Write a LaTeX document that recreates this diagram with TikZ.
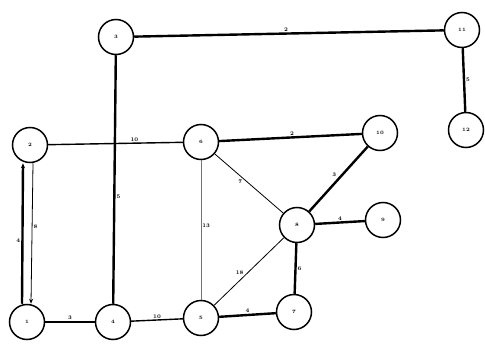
\documentclass[tikz,border=0pt]{standalone}
\usetikzlibrary{arrows.meta}
\begin{document}
\begin{tikzpicture}[x=1pt,y=-1pt,
  vert/.style={circle,draw,line width=1.5pt,minimum size=35pt,inner sep=0pt,font=\fontsize{5}{6}\selectfont\bfseries,fill=white},
  lab/.style={font=\fontsize{5.5}{6}\selectfont\bfseries,inner sep=1pt},
  heavy/.style={line width=2.4pt},
  mid/.style={line width=1.4pt},
  light/.style={line width=0.8pt},
  faint/.style={line width=0.6pt,black!55}]
\useasboundingbox (0,0) rectangle (485,345);
\node[vert] (n1) at (27,322) {1};
\node[vert] (n2) at (30,145) {2};
\node[vert] (n3) at (116,37) {3};
\node[vert] (n4) at (113,322) {4};
\node[vert] (n5) at (201,318) {5};
\node[vert] (n6) at (201,142) {6};
\node[vert] (n7) at (294,312) {7};
\node[vert] (n8) at (297,225) {8};
\node[vert] (n9) at (383,220) {9};
\node[vert] (n10) at (380,133) {10};
\node[vert] (n11) at (462,30) {11};
\node[vert] (n12) at (466,130) {12};
\coordinate (a1) at ([xshift=-5pt]n1.north);
\coordinate (a2) at ([xshift=-7pt]n2.south);
\coordinate (b1) at ([xshift=4pt]n1.north);
\coordinate (b2) at ([xshift=3pt]n2.south);
\draw[heavy] (n3) -- node[lab,pos=0.49,above] {2} (n11);
\draw[heavy] (n11) -- node[lab,pos=0.5,right] {5} (n12);
\draw[mid] (n2) -- node[lab,pos=0.64,above] {10} (n6);
\draw[heavy] (n3) -- node[lab,pos=0.57,right] {5} (n4);
\draw[heavy] (n6) -- node[lab,pos=0.51,above] {2} (n10);
\draw[light] (n6) -- node[lab,pos=0.42,below left] {7} (n8);
\draw[faint] (n6) -- node[lab,pos=0.47,right,black] {13} (n5);
\draw[heavy] (n8) -- node[lab,pos=0.5,above left] {3} (n10);
\draw[heavy] (n8) -- node[lab,pos=0.5,above] {4} (n9);
\draw[light] (n8) -- node[lab,pos=0.56,above left] {18} (n5);
\draw[heavy] (n8) -- node[lab,pos=0.5,right] {6} (n7);
\draw[heavy] (n5) -- node[lab,pos=0.5,above] {4} (n7);
\draw[heavy] (n1) -- node[lab,pos=0.5,above] {3} (n4);
\draw[mid] (n4) -- node[lab,pos=0.5,above] {10} (n5);
\draw[heavy,-{Stealth[length=5pt,width=4pt]}] (a1) -- node[lab,pos=0.45,left] {4} (a2);
\draw[light,-{Stealth[length=5pt,width=4pt]}] (b2) -- node[lab,pos=0.45,right] {8} (b1);
\end{tikzpicture}
\end{document}
